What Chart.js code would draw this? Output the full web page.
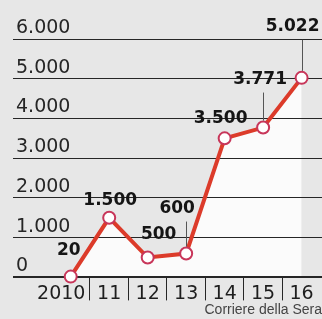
<!DOCTYPE html>
<html>
<head>
<meta charset="utf-8">
<script src="https://cdn.jsdelivr.net/npm/chart.js@4"></script>
<style>
    html, body { margin: 0; padding: 0; background: #e7e7e7; }
    canvas { display: block; background: #e7e7e7; }
</style>
</head>
<body>
<canvas id="myChart" width="322" height="319"></canvas>
<script>
// dati (anni e valori)
const years = ['2010', '11', '12', '13', '14', '15', '16'];
const values = [20, 1500, 500, 600, 3500, 3771, 5022];
const yTicks = [0, 1000, 2000, 3000, 4000, 5000, 6000];

// posizione etichette rispetto al punto (px) + linea di richiamo
const labelDx = [-2, 1, 11, -9, -4, -3, -9];
const labelDy = [-26, -17, -23, -45, -20, -48, -51];
const leader = [false, false, false, true, false, true, true];

const DARK = '#262626';

// 1500 -> "1.500"
function fmt(n) {
    return String(n).replace(/\B(?=(\d{3})+(?!\d))/g, '.');
}

// etichette dei valori sopra i punti
const valueLabels = {
    id: 'valueLabels',
    afterDatasetsDraw(chart) {
        const ctx = chart.ctx;
        const meta = chart.getDatasetMeta(0);
        ctx.save();
        meta.data.forEach((pt, i) => {
            const lx = pt.x + labelDx[i];
            const ly = pt.y + labelDy[i];
            if (leader[i]) {
                ctx.strokeStyle = '#555';
                ctx.lineWidth = 1;
                ctx.beginPath();
                ctx.moveTo(Math.round(pt.x) + 0.5, pt.y - 7);
                ctx.lineTo(Math.round(pt.x) + 0.5, ly + 13);
                ctx.stroke();
            }
            ctx.fillStyle = '#151515';
            ctx.font = 'bold 17px "DejaVu Sans"';
            ctx.textAlign = 'center';
            ctx.textBaseline = 'middle';
            ctx.fillText(fmt(values[i]), lx, ly);
        });
        ctx.restore();
    }
};

new Chart(document.getElementById('myChart'), {
    type: 'line',
    data: {
        datasets: [{
            data: values.map((v, i) => ({ x: i, y: v })),
            borderColor: '#dc3b2a',
            borderWidth: 4,
            backgroundColor: '#fbfbfb',
            fill: 'origin',
            tension: 0,
            pointRadius: 6,
            pointBorderWidth: 2,
            pointBorderColor: '#c8365a',
            pointBackgroundColor: '#ffffff',
            clip: false
        }]
    },
    options: {
        responsive: false,
        animation: false,
        layout: { autoPadding: false, padding: { left: 7, right: 0, top: 39, bottom: 0 } },
        plugins: {
            legend: { display: false },
            tooltip: { enabled: false },
            filler: { drawTime: 'beforeDraw' }
        },
        scales: {
            x: {
                type: 'linear',
                min: -1.5,
                max: 6.53,
                afterBuildTicks: (scale) => { scale.ticks = years.map((_, i) => ({ value: i })); },
                grid: {
                    display: true,
                    drawOnChartArea: false,
                    drawTicks: true,
                    tickLength: 23,
                    offset: true,
                    color: (c) => (c.index > 0 ? DARK : 'transparent'),
                    lineWidth: 1
                },
                border: { display: false },
                ticks: {
                    padding: -18,
                    color: '#1e1e1e',
                    font: { family: 'DejaVu Sans', size: 19 },
                    maxRotation: 0,
                    autoSkip: false,
                    callback: (v) => (v === 0 ? years[v] + '\u2003' : years[v])
                },
                title: {
                    display: true,
                    text: 'Corriere della Sera',
                    align: 'end',
                    color: '#444',
                    padding: { top: 15, bottom: 0 },
                    font: { family: '"Liberation Sans Narrow", "Liberation Sans"', size: 14 }
                }
            },
            y: {
                min: 0,
                max: 6000,
                afterBuildTicks: (scale) => { scale.ticks = yTicks.map(v => ({ value: v })); },
                grid: {
                    color: DARK,
                    lineWidth: (c) => (c.tick && c.tick.value === 0 ? 2 : 1),
                    drawTicks: false
                },
                border: { display: false },
                ticks: {
                    mirror: true,
                    padding: 3,
                    labelOffset: -11,
                    color: '#262626',
                    font: { family: 'DejaVu Sans', size: 19 },
                    callback: (v) => fmt(v)
                }
            }
        }
    },
    plugins: [valueLabels]
});
</script>
</body>
</html>
